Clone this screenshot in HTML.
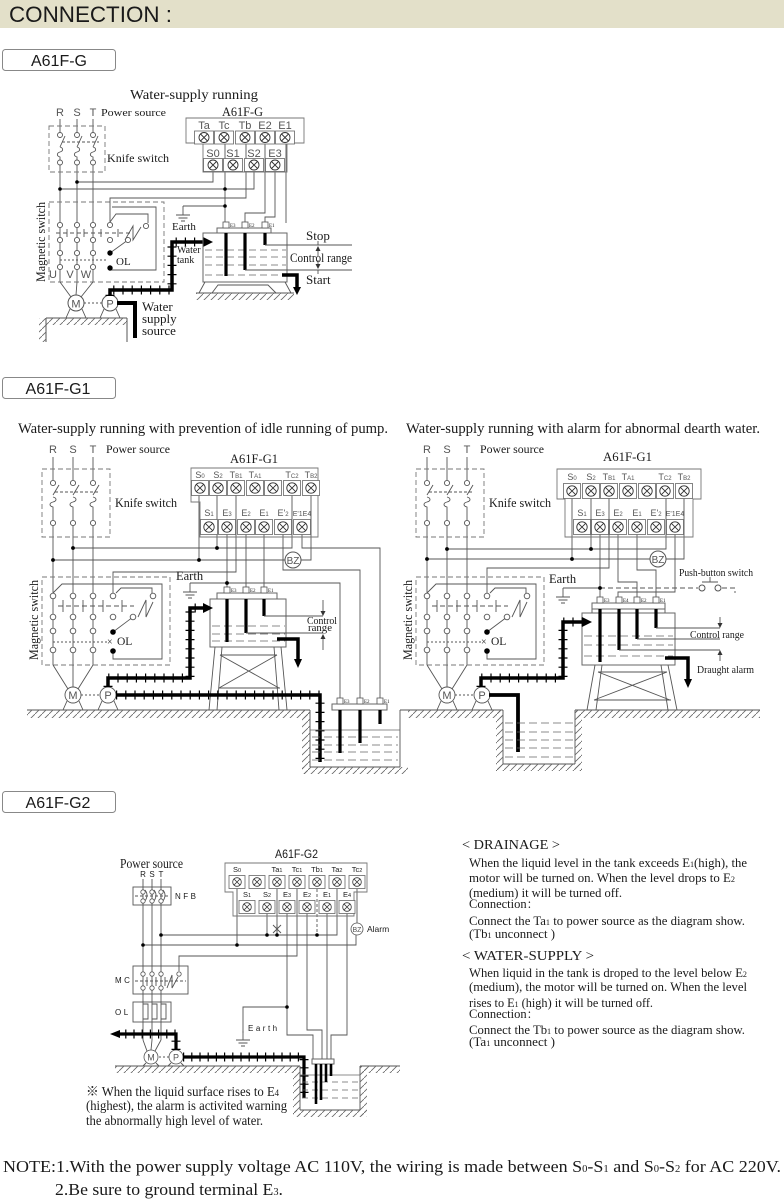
<!DOCTYPE html>
<html><head><meta charset="utf-8">
<style>
html,body{margin:0;padding:0;background:#fff;}
svg{display:block;}
.s{font-family:"Liberation Serif","Noto Serif CJK SC",serif;fill:#1a1a1a;}
.a{font-family:"Liberation Sans",sans-serif;fill:#1a1a1a;}
.g{font-family:"Liberation Sans",sans-serif;fill:#555;}
</style></head><body>
<svg width="784" height="1200" viewBox="0 0 784 1200" xmlns="http://www.w3.org/2000/svg">
<defs>
<pattern id="h" width="7" height="7" patternUnits="userSpaceOnUse"><path d="M-1,8 L8,-1" stroke="#666" stroke-width="0.8"/></pattern>
<g id="tm"><rect x="-8.5" y="-7.5" width="17" height="15" fill="#fff" stroke="#666" stroke-width="0.8"/><circle r="5.2" fill="none" stroke="#333" stroke-width="0.9"/><path d="M-3.6,-3.6 L3.6,3.6 M3.6,-3.6 L-3.6,3.6" stroke="#333" stroke-width="0.9"/></g>
<g id="tm1"><rect x="-9.5" y="-6.5" width="19" height="13" fill="#fff" stroke="#666" stroke-width="0.8"/><circle r="5" fill="none" stroke="#333" stroke-width="0.9"/><path d="M-3.5,-3.5 L3.5,3.5 M3.5,-3.5 L-3.5,3.5" stroke="#333" stroke-width="0.9"/></g>
<g id="tm2"><rect x="-8" y="-6.5" width="16" height="13" fill="#fff" stroke="#666" stroke-width="0.8"/><circle r="4.3" fill="none" stroke="#333" stroke-width="0.8"/><path d="M-3,-3 L3,3 M3,-3 L-3,3" stroke="#333" stroke-width="0.8"/></g>
<g id="gnd"><path d="M0,0 V9 M-7,9 H7 M-4.5,12 H4.5 M-2,15 H2" stroke="#555" stroke-width="0.9" fill="none"/></g>
<g id="eb"><rect x="-3" y="-6" width="6" height="6" fill="#fff" stroke="#555" stroke-width="0.8"/></g>
</defs>

<!-- HEADER -->
<rect x="0" y="0" width="784" height="28" fill="#e3e0c9"/>
<text x="9" y="22" class="a" font-size="22" textLength="163" lengthAdjust="spacingAndGlyphs">CONNECTION :</text>

<rect x="2.5" y="49.5" width="113" height="21" rx="3" fill="#fff" stroke="#888"/>
<text x="59" y="66" class="a" font-size="16" text-anchor="middle">A61F-G</text>
<rect x="2.5" y="377.5" width="113" height="21" rx="3" fill="#fff" stroke="#888"/>
<text x="58" y="394" class="a" font-size="16" text-anchor="middle">A61F-G1</text>
<rect x="2.5" y="791.5" width="113" height="21" rx="3" fill="#fff" stroke="#888"/>
<text x="58" y="808" class="a" font-size="16" text-anchor="middle">A61F-G2</text>

<!-- ================= SECTION 1 ================= -->
<g stroke="#555" stroke-width="0.9" fill="none">
  <line x1="60" y1="119" x2="60" y2="132"/><line x1="77" y1="119" x2="77" y2="132"/><line x1="93" y1="119" x2="93" y2="132"/>
  <line x1="60" y1="147" x2="65" y2="136"/><line x1="77" y1="147" x2="82" y2="136"/><line x1="93" y1="147" x2="98" y2="136"/>
  <path d="M60,147 c3.5,1 3.5,4 0,5 c-3.5,1 -3.5,4 0,5 V160 M77,147 c3.5,1 3.5,4 0,5 c-3.5,1 -3.5,4 0,5 V160 M93,147 c3.5,1 3.5,4 0,5 c-3.5,1 -3.5,4 0,5 V160"/>
  <line x1="60" y1="165" x2="60" y2="282"/><line x1="77" y1="165" x2="77" y2="282"/><line x1="93" y1="165" x2="93" y2="282"/>
  <line x1="62" y1="142" x2="99" y2="142" stroke-dasharray="3 2"/>
  <rect x="49" y="126" width="56" height="46" stroke="#777" stroke-dasharray="5 3"/>
  <rect x="49" y="202" width="115" height="80" stroke="#777" stroke-dasharray="5 3"/>
  <path d="M112,207 H156 V270 H110"/>
  <line x1="56" y1="233" x2="130" y2="233" stroke-dasharray="4 3"/>
  <path d="M67,229 V237 M84,229 V237 M101,229 V237 M118,229 V237"/>
  <line x1="60" y1="260" x2="108" y2="260" stroke-dasharray="2 2"/>
  <path d="M110,222 V198 H246 V143"/>
  <path d="M110,222 L116,214 H148 V223"/>
  <path d="M125,240 L133,226 L133,240 L141,227"/>
  <line x1="110" y1="253" x2="128" y2="240"/>
  <path d="M60,282 L71,297 M77,282 L76,295 M93,282 L81,297"/>
  <path d="M213,171 V182 H77"/>
  <path d="M60,189 H254 V171"/>
  <path d="M225,143 V223"/>
  <path d="M183,206 H225"/>
  <path d="M265,143 V213 H245 V223"/>
  <path d="M275,171 V217 H265 V223"/>
  <path d="M286,143 V223"/>
</g>
<g fill="#fff" stroke="#555" stroke-width="0.9">
  <circle cx="60" cy="135" r="2.5"/><circle cx="77" cy="135" r="2.5"/><circle cx="93" cy="135" r="2.5"/>
  <circle cx="60" cy="162.5" r="2.5"/><circle cx="77" cy="162.5" r="2.5"/><circle cx="93" cy="162.5" r="2.5"/>
  <circle cx="60" cy="225" r="2.6"/><circle cx="77" cy="225" r="2.6"/><circle cx="93" cy="225" r="2.6"/><circle cx="110" cy="225" r="2.6"/>
  <circle cx="60" cy="240" r="2.6"/><circle cx="77" cy="240" r="2.6"/><circle cx="93" cy="240" r="2.6"/><circle cx="110" cy="240" r="2.6"/>
  <circle cx="60" cy="253" r="2.6"/><circle cx="77" cy="253" r="2.6"/><circle cx="93" cy="253" r="2.6"/>
  <circle cx="60" cy="267" r="2.6"/><circle cx="77" cy="267" r="2.6"/><circle cx="93" cy="267" r="2.6"/>
  <circle cx="146" cy="226" r="2.6"/><circle cx="128" cy="240" r="2.6"/>
</g>
<g fill="#000"><circle cx="110" cy="253" r="2.7"/><circle cx="110" cy="268" r="2.7"/>
<circle cx="77" cy="182" r="1.8"/><circle cx="60" cy="189" r="1.8"/><circle cx="225" cy="189" r="1.8"/><circle cx="225" cy="206" r="1.8"/></g>
<use href="#gnd" x="183" y="206"/>
<path d="M186,118 H304 V143 H287 V172 H203 V143 H186 Z" fill="none" stroke="#777" stroke-width="0.9"/>
<use href="#tm1" x="204" y="137.5"/><use href="#tm1" x="224" y="137.5"/><use href="#tm1" x="245" y="137.5"/><use href="#tm1" x="265" y="137.5"/><use href="#tm1" x="285" y="137.5"/>
<use href="#tm1" x="213" y="165"/><use href="#tm1" x="233" y="165"/><use href="#tm1" x="254" y="165"/><use href="#tm1" x="275" y="165"/>
<g class="g" font-size="11" text-anchor="middle">
  <text x="204" y="129">Ta</text><text x="224" y="129">Tc</text><text x="245" y="129">Tb</text><text x="265" y="129">E2</text><text x="285" y="129">E1</text>
  <text x="213" y="157">S0</text><text x="233" y="157">S1</text><text x="254" y="157">S2</text><text x="275" y="157">E3</text>
  <text x="60" y="116">R</text><text x="77" y="116">S</text><text x="93" y="116">T</text>
  <text x="53" y="278">U</text><text x="70" y="278">V</text><text x="86" y="278">W</text>
</g>
<line x1="84" y1="303" x2="102" y2="303" stroke="#555" stroke-dasharray="2 2"/>
<g stroke="#555" stroke-width="0.9" fill="none"><path d="M70,309 L66,318 M82,309 L86,318 M104,309 L100,318 M116,309 L120,318"/></g>
<circle cx="76" cy="303" r="8" fill="#fff" stroke="#555"/><circle cx="110" cy="303" r="8" fill="#fff" stroke="#555"/>
<text x="76" y="307.5" class="g" font-size="11" text-anchor="middle">M</text><text x="110" y="307.5" class="g" font-size="11" text-anchor="middle">P</text>
<line x1="46" y1="318" x2="127" y2="318" stroke="#555"/>
<rect x="46" y="318" width="81" height="7" fill="url(#h)"/>
<line x1="46" y1="318" x2="46" y2="342" stroke="#555"/><rect x="39" y="318" width="7" height="24" fill="url(#h)"/>
<line x1="127" y1="318" x2="127" y2="342" stroke="#555"/>
<path d="M110,296 V290 H172 V242 H204" fill="none" stroke="#000" stroke-width="9" stroke-dasharray="1.2 8"/>
<path d="M110,296 V290 H172 V242 H204" fill="none" stroke="#000" stroke-width="3.5"/>
<polygon points="203,237 213,242 203,247" fill="#000"/>
<path d="M117,303 H135 V338" fill="none" stroke="#000" stroke-width="4"/>
<rect x="203" y="233" width="84" height="49" fill="none" stroke="#666"/>
<rect x="217" y="228" width="54" height="5" fill="#fff" stroke="#666"/>
<use href="#eb" x="226" y="228"/><use href="#eb" x="245" y="228"/><use href="#eb" x="265" y="228"/>
<g class="s" font-size="5"><text x="230" y="227">E3</text><text x="249" y="227">E2</text><text x="269" y="227">E1</text></g>
<g stroke="#666" stroke-width="0.8" stroke-dasharray="7 4"><line x1="205" y1="250" x2="286" y2="250"/><line x1="205" y1="257" x2="286" y2="257"/><line x1="205" y1="265" x2="286" y2="265"/><line x1="205" y1="275" x2="286" y2="275"/></g>
<g stroke="#000" stroke-width="3.2"><line x1="226" y1="233" x2="226" y2="276"/><line x1="245" y1="233" x2="245" y2="270"/><line x1="265" y1="233" x2="265" y2="245"/></g>
<g stroke="#555" stroke-width="0.9" fill="none">
  <path d="M265,245 H352 M245,270 H352"/>
  <path d="M318,241 V245 M318,270 V274 M318,249 V256 M318,260 V266"/>
  <path d="M205,282 L199,293 M285,282 L291,293 M212,293 L218,285 H268 L276,293"/>
  <line x1="196" y1="293" x2="294" y2="293"/>
</g>
<polygon points="315.5,251 320.5,251 318,246" fill="#333"/><polygon points="315.5,264 320.5,264 318,269" fill="#333"/>
<rect x="196" y="293" width="98" height="7" fill="url(#h)"/>
<path d="M282,275 H297 V288" fill="none" stroke="#000" stroke-width="3.5"/><polygon points="293,287 301,287 297,295" fill="#000"/>
<text x="130" y="99" class="s" font-size="14" textLength="128" lengthAdjust="spacingAndGlyphs">Water-supply running</text>
<text x="101" y="116" class="s" font-size="11" textLength="65" lengthAdjust="spacingAndGlyphs">Power source</text>
<text x="222" y="116" class="s" font-size="13" textLength="41" lengthAdjust="spacingAndGlyphs">A61F-G</text>
<text x="107" y="162" class="s" font-size="12" textLength="62" lengthAdjust="spacingAndGlyphs">Knife switch</text>
<text x="172" y="230" class="s" font-size="11">Earth</text>
<text transform="translate(45,242) rotate(-90)" class="s" font-size="13" text-anchor="middle" textLength="80" lengthAdjust="spacingAndGlyphs">Magnetic switch</text>
<text x="116" y="265" class="s" font-size="11">OL</text>
<text x="177" y="253" class="s" font-size="10">Water</text><text x="177" y="263" class="s" font-size="10">tank</text>
<text x="306" y="240" class="s" font-size="13">Stop</text>
<text x="290" y="262" class="s" font-size="12.5" textLength="62" lengthAdjust="spacingAndGlyphs">Control range</text>
<text x="306" y="284" class="s" font-size="13">Start</text>
<text x="142" y="311" class="s" font-size="13">Water</text><text x="142" y="323" class="s" font-size="13">supply</text><text x="142" y="335" class="s" font-size="13">source</text>

<!-- ================= SECTION 2 ================= -->
<text x="18" y="433" class="s" font-size="14.5" textLength="370" lengthAdjust="spacingAndGlyphs">Water-supply running with prevention of idle running of pump.</text>
<text x="406" y="433" class="s" font-size="14.5" textLength="354" lengthAdjust="spacingAndGlyphs">Water-supply running with alarm for abnormal dearth water.</text>

<g id="sw">
<g stroke="#555" stroke-width="0.9" fill="none">
  <line x1="53" y1="457" x2="53" y2="480"/><line x1="73" y1="457" x2="73" y2="480"/><line x1="93" y1="457" x2="93" y2="480"/>
  <line x1="53" y1="495" x2="59" y2="485"/><line x1="73" y1="495" x2="79" y2="485"/><line x1="93" y1="495" x2="99" y2="485"/>
  <path d="M53,497 c4,1 4,4 0,5 c-4,1 -4,4 0,5 V520 M73,497 c4,1 4,4 0,5 c-4,1 -4,4 0,5 V520 M93,497 c4,1 4,4 0,5 c-4,1 -4,4 0,5 V520"/>
  <line x1="55" y1="492" x2="100" y2="492" stroke-dasharray="3 2"/>
  <line x1="53" y1="526" x2="53" y2="665"/><line x1="73" y1="526" x2="73" y2="665"/><line x1="93" y1="526" x2="93" y2="665"/>
  <rect x="42" y="469" width="68" height="68" stroke="#777" stroke-dasharray="5 3"/>
  <rect x="42" y="577" width="128" height="88" stroke="#777" stroke-dasharray="5 3"/>
  <path d="M53,593 L62,584 H162 V659 H113 V651"/>
  <line x1="58" y1="606" x2="134" y2="606" stroke-dasharray="5 3"/>
  <path d="M63,600 V612 M83,600 V612 M103,600 V612 M122,600 V612"/>
  <line x1="53" y1="642" x2="108" y2="642" stroke-dasharray="2 2"/>
  <path d="M116,593 L121,588 H152 V593"/>
  <path d="M138,617 L146,600 L146,617 L153,602"/>
  <line x1="113" y1="632" x2="133" y2="617"/>
  <path d="M53,665 L68,689 M73,665 L73,687 M93,665 L78,689"/>
  <path d="M67,701 L63,710 M79,701 L83,710 M102,701 L98,710 M114,701 L118,710"/>
  <line x1="81" y1="695" x2="100" y2="695" stroke-dasharray="2 2"/>
</g>
<g fill="#fff" stroke="#555" stroke-width="0.9">
  <circle cx="53" cy="483" r="2.6"/><circle cx="73" cy="483" r="2.6"/><circle cx="93" cy="483" r="2.6"/>
  <circle cx="53" cy="523" r="2.6"/><circle cx="73" cy="523" r="2.6"/><circle cx="93" cy="523" r="2.6"/>
  <circle cx="53" cy="596" r="2.8"/><circle cx="73" cy="596" r="2.8"/><circle cx="93" cy="596" r="2.8"/><circle cx="113" cy="596" r="2.8"/>
  <circle cx="53" cy="617" r="2.8"/><circle cx="73" cy="617" r="2.8"/><circle cx="93" cy="617" r="2.8"/><circle cx="113" cy="617" r="2.8"/>
  <circle cx="53" cy="631" r="2.8"/><circle cx="73" cy="631" r="2.8"/><circle cx="93" cy="631" r="2.8"/>
  <circle cx="53" cy="650" r="2.8"/><circle cx="73" cy="650" r="2.8"/><circle cx="93" cy="650" r="2.8"/>
  <circle cx="153" cy="596" r="2.8"/><circle cx="133" cy="617" r="2.8"/>
  <circle cx="73" cy="695" r="8"/><circle cx="108" cy="695" r="8"/>
</g>
<g fill="#000"><circle cx="113" cy="632" r="2.8"/><circle cx="113" cy="651" r="2.8"/></g>
<text x="73" y="699" class="g" font-size="11" text-anchor="middle">M</text><text x="108" y="699" class="g" font-size="11" text-anchor="middle">P</text>
<g class="g" font-size="11" text-anchor="middle"><text x="53" y="453">R</text><text x="73" y="453">S</text><text x="93" y="453">T</text></g>
<text x="106" y="453" class="s" font-size="12" textLength="64" lengthAdjust="spacingAndGlyphs">Power source</text>
<text x="115" y="507" class="s" font-size="13" textLength="62" lengthAdjust="spacingAndGlyphs">Knife switch</text>
<text transform="translate(38,620) rotate(-90)" class="s" font-size="13" text-anchor="middle" textLength="80" lengthAdjust="spacingAndGlyphs">Magnetic switch</text>
<text x="107" y="645" class="s" font-size="10">×</text><text x="117" y="645" class="s" font-size="11.5">OL</text>
</g>
<use href="#sw" x="374" y="0"/>

<g stroke="#555" stroke-width="0.9" fill="none">
  <path d="M73,548 H292 V495"/>
  <path d="M217,495 V548"/>
  <path d="M53,560 H285"/><path d="M199,495 V560"/>
  <path d="M301,560 H311 V495"/>
  <path d="M113,593 V572 H236 V495"/>
  <path d="M190,583 H340 V698"/>
  <path d="M227,534 V591 M246,534 V591 M264,534 V591"/>
  <path d="M283,534 V570 H360 V698"/>
  <path d="M302,534 V548 H380 V698"/>
</g>
<use href="#gnd" x="190" y="583"/>
<g fill="#000"><circle cx="73" cy="548" r="1.9"/><circle cx="217" cy="548" r="1.9"/><circle cx="53" cy="560" r="1.9"/><circle cx="199" cy="560" r="1.9"/><circle cx="227" cy="583" r="1.9"/></g>
<circle cx="293" cy="560" r="8" fill="#fff" stroke="#555"/><text x="293" y="564" class="g" font-size="10" text-anchor="middle">BZ</text>
<path d="M191,468 H318 V537 H200 V502 H191 Z" fill="none" stroke="#777" stroke-width="0.9"/>
<use href="#tm" x="200" y="488"/><use href="#tm" x="218" y="488"/><use href="#tm" x="236" y="488"/><use href="#tm" x="255" y="488"/><use href="#tm" x="273" y="488"/><use href="#tm" x="292" y="488"/><use href="#tm" x="311" y="488"/>
<use href="#tm" x="209" y="527"/><use href="#tm" x="227" y="527"/><use href="#tm" x="246" y="527"/><use href="#tm" x="264" y="527"/><use href="#tm" x="283" y="527"/><use href="#tm" x="302" y="527"/>
<g class="g" font-size="9" text-anchor="middle">
  <text x="200" y="478">S<tspan font-size="6">0</tspan></text><text x="218" y="478">S<tspan font-size="6">2</tspan></text><text x="236" y="478">T<tspan font-size="6">B1</tspan></text><text x="255" y="478">T<tspan font-size="6">A1</tspan></text><text x="292" y="478">T<tspan font-size="6">C2</tspan></text><text x="311" y="478">T<tspan font-size="6">B2</tspan></text>
  <text x="209" y="516">S<tspan font-size="6">1</tspan></text><text x="227" y="516">E<tspan font-size="6">3</tspan></text><text x="246" y="516">E<tspan font-size="6">2</tspan></text><text x="264" y="516">E<tspan font-size="6">1</tspan></text><text x="283" y="516">E'<tspan font-size="6">2</tspan></text><text x="302" y="516" font-size="7">E'1E4</text>
</g>
<text x="230" y="463" class="s" font-size="13" textLength="48" lengthAdjust="spacingAndGlyphs">A61F-G1</text>
<text x="176" y="580" class="s" font-size="12.5">Earth</text>
<rect x="210" y="599" width="76" height="48" fill="none" stroke="#666"/>
<rect x="217" y="593" width="60" height="6" fill="#fff" stroke="#666"/>
<use href="#eb" x="227" y="593"/><use href="#eb" x="246" y="593"/><use href="#eb" x="264" y="593"/>
<g class="s" font-size="5"><text x="231" y="592">E3</text><text x="250" y="592">E2</text><text x="268" y="592">E1</text></g>
<g stroke="#666" stroke-width="0.8" stroke-dasharray="8 4"><line x1="212" y1="626" x2="285" y2="626"/><line x1="212" y1="634" x2="285" y2="634"/><line x1="212" y1="641" x2="285" y2="641"/></g>
<g stroke="#000" stroke-width="3.2"><line x1="227" y1="599" x2="227" y2="642"/><line x1="246" y1="599" x2="246" y2="633"/><line x1="264" y1="599" x2="264" y2="616"/></g>
<g stroke="#555" stroke-width="0.9" fill="none">
  <path d="M264,616 H323 M246,633 H323"/>
  <path d="M323,600 V611 M323,639 V650"/>
  <path d="M215,647 L209,710 M222,647 L217,710 M281,647 L287,710 M274,647 L279,710"/>
  <path d="M220,655 H277 M219,688 H280 M220,655 L279,688 M277,655 L219,688"/>
</g>
<polygon points="320.5,611 325.5,611 323,616" fill="#333"/><polygon points="320.5,639 325.5,639 323,634" fill="#333"/>
<text x="307" y="624" class="s" font-size="11" textLength="30" lengthAdjust="spacingAndGlyphs">Control</text><text x="308" y="631" class="s" font-size="10.5" textLength="24" lengthAdjust="spacingAndGlyphs">range</text>
<path d="M277,639 H298 V660" fill="none" stroke="#000" stroke-width="3.5"/><polygon points="294,659 302,659 298,668" fill="#000"/>
<path d="M108,687 V678 H190 V608 H204" fill="none" stroke="#000" stroke-width="9" stroke-dasharray="1.2 8"/>
<path d="M108,687 V678 H190 V608 H204" fill="none" stroke="#000" stroke-width="3.5"/>
<polygon points="203,603 213,608 203,613" fill="#000"/>
<path d="M116,695 H320 V762" fill="none" stroke="#000" stroke-width="9" stroke-dasharray="1.2 8"/>
<path d="M116,695 H320 V762" fill="none" stroke="#000" stroke-width="3.5"/>
<g stroke="#555" stroke-width="0.9"><line x1="27" y1="710" x2="310" y2="710"/><line x1="310" y1="710" x2="310" y2="767"/><line x1="310" y1="767" x2="400" y2="767"/><line x1="400" y1="710" x2="400" y2="767"/></g>
<rect x="27" y="710" width="283" height="8" fill="url(#h)"/>
<rect x="302" y="710" width="8" height="64" fill="url(#h)"/>
<rect x="302" y="767" width="106" height="7" fill="url(#h)"/>
<rect x="332" y="704" width="55" height="6" fill="#fff" stroke="#666"/>
<use href="#eb" x="340" y="704"/><use href="#eb" x="360" y="704"/><use href="#eb" x="380" y="704"/>
<g class="s" font-size="5"><text x="344" y="703">E3</text><text x="364" y="703">E2</text><text x="384" y="703">E1</text></g>
<g stroke="#666" stroke-width="0.8"><line x1="310" y1="730" x2="400" y2="730"/></g>
<g stroke="#666" stroke-width="0.8" stroke-dasharray="8 4"><line x1="312" y1="737" x2="398" y2="737"/><line x1="312" y1="745" x2="398" y2="745"/><line x1="312" y1="752" x2="398" y2="752"/><line x1="312" y1="760" x2="398" y2="760"/></g>
<g stroke="#000" stroke-width="3.2"><line x1="340" y1="710" x2="340" y2="753"/><line x1="360" y1="710" x2="360" y2="743"/><line x1="380" y1="710" x2="380" y2="724"/></g>

<!-- right G1 -->
<g stroke="#555" stroke-width="0.9" fill="none">
  <path d="M447,549 H666 V497"/><path d="M591,497 V549"/>
  <path d="M427,559 H650"/><path d="M572,497 V559"/>
  <path d="M666,559 H684 V497"/>
  <path d="M487,593 V568 H609 V497"/>
  <path d="M600,534 V597"/>
  <path d="M563,588 H600"/>
  <path d="M600,588 H698 M722,588 H735 V593" stroke-dasharray="5 3"/>
  <path d="M702,582 H718 M710,582 V577"/>
  <path d="M618,534 V582 H637 V597"/>
  <path d="M637,534 V570 H656 V597"/>
  <path d="M675,534 V592 H618 V597"/>
</g>
<circle cx="702" cy="588" r="3" fill="#fff" stroke="#555"/><circle cx="718" cy="588" r="3" fill="#fff" stroke="#555"/>
<use href="#gnd" x="563" y="588"/>
<g fill="#000"><circle cx="447" cy="549" r="1.9"/><circle cx="591" cy="549" r="1.9"/><circle cx="427" cy="559" r="1.9"/><circle cx="572" cy="559" r="1.9"/><circle cx="600" cy="588" r="1.9"/></g>
<circle cx="658" cy="559" r="8" fill="#fff" stroke="#555"/><text x="658" y="563" class="g" font-size="10" text-anchor="middle">BZ</text>
<path d="M557,469 H701 V499 H693 V537 H565 V499 H557 Z" fill="none" stroke="#777" stroke-width="0.9"/>
<use href="#tm" x="572" y="491"/><use href="#tm" x="591" y="491"/><use href="#tm" x="609" y="491"/><use href="#tm" x="628" y="491"/><use href="#tm" x="647" y="491"/><use href="#tm" x="665" y="491"/><use href="#tm" x="684" y="491"/>
<use href="#tm" x="582" y="527"/><use href="#tm" x="600" y="527"/><use href="#tm" x="618" y="527"/><use href="#tm" x="637" y="527"/><use href="#tm" x="656" y="527"/><use href="#tm" x="675" y="527"/>
<g class="g" font-size="9" text-anchor="middle">
  <text x="572" y="480">S<tspan font-size="6">0</tspan></text><text x="591" y="480">S<tspan font-size="6">2</tspan></text><text x="609" y="480">T<tspan font-size="6">B1</tspan></text><text x="628" y="480">T<tspan font-size="6">A1</tspan></text><text x="665" y="480">T<tspan font-size="6">C2</tspan></text><text x="684" y="480">T<tspan font-size="6">B2</tspan></text>
  <text x="582" y="516">S<tspan font-size="6">1</tspan></text><text x="600" y="516">E<tspan font-size="6">3</tspan></text><text x="618" y="516">E<tspan font-size="6">2</tspan></text><text x="637" y="516">E<tspan font-size="6">1</tspan></text><text x="656" y="516">E'<tspan font-size="6">2</tspan></text><text x="675" y="516" font-size="7">E'1E4</text>
</g>
<text x="603" y="461" class="s" font-size="13" textLength="49" lengthAdjust="spacingAndGlyphs">A61F-G1</text>
<text x="549" y="583" class="s" font-size="12.5">Earth</text>
<text x="679" y="576" class="s" font-size="10.5" textLength="74" lengthAdjust="spacingAndGlyphs">Push-button switch</text>
<rect x="582" y="613" width="93" height="52" fill="none" stroke="#666"/>
<rect x="592" y="603" width="73" height="6" fill="#fff" stroke="#666"/>
<line x1="592" y1="609" x2="592" y2="613" stroke="#666"/><line x1="665" y1="609" x2="665" y2="613" stroke="#666"/>
<use href="#eb" x="600" y="603"/><use href="#eb" x="619" y="603"/><use href="#eb" x="637" y="603"/><use href="#eb" x="656" y="603"/>
<g class="s" font-size="5"><text x="604" y="602">E3</text><text x="623" y="602">E4</text><text x="641" y="602">E2</text><text x="660" y="602">E1</text></g>
<g stroke="#666" stroke-width="0.8" stroke-dasharray="8 4"><line x1="584" y1="636" x2="673" y2="636"/><line x1="584" y1="645" x2="673" y2="645"/><line x1="584" y1="656" x2="673" y2="656"/></g>
<g stroke="#000" stroke-width="3.2"><line x1="600" y1="609" x2="600" y2="662"/><line x1="619" y1="609" x2="619" y2="650"/><line x1="637" y1="609" x2="637" y2="639"/><line x1="656" y1="609" x2="656" y2="628"/></g>
<g stroke="#555" stroke-width="0.9" fill="none">
  <path d="M656,628 H720 M637,639 H720 M619,650 H720"/>
  <path d="M720,617 V623 M720,655 V661"/>
  <path d="M595,665 L587,710 M602,665 L596,710 M668,665 L677,710 M661,665 L668,710"/>
  <path d="M598,672 H667 M594,700 H671 M598,672 L670,700 M667,672 L594,700"/>
</g>
<polygon points="717.5,623 722.5,623 720,628" fill="#333"/><polygon points="717.5,655 722.5,655 720,650" fill="#333"/>
<text x="690" y="638" class="s" font-size="11" textLength="54" lengthAdjust="spacingAndGlyphs">Control range</text>
<text x="697" y="673" class="s" font-size="11" textLength="57" lengthAdjust="spacingAndGlyphs">Draught alarm</text>
<path d="M665,658 H688 V680" fill="none" stroke="#000" stroke-width="3.5"/><polygon points="684,679 692,679 688,688" fill="#000"/>
<path d="M481,687 V678 H563 V622 H583" fill="none" stroke="#000" stroke-width="9" stroke-dasharray="1.2 8"/>
<path d="M481,687 V678 H563 V622 H583" fill="none" stroke="#000" stroke-width="3.5"/>
<polygon points="582,617 592,622 582,627" fill="#000"/>
<path d="M489,695 H518 V752" fill="none" stroke="#000" stroke-width="3.8"/>
<g stroke="#555" stroke-width="0.9"><line x1="400" y1="710" x2="503" y2="710"/><line x1="575" y1="710" x2="760" y2="710"/><line x1="503" y1="710" x2="503" y2="764"/><line x1="575" y1="710" x2="575" y2="764"/><line x1="503" y1="764" x2="575" y2="764"/></g>
<rect x="408" y="710" width="95" height="8" fill="url(#h)"/>
<rect x="575" y="710" width="185" height="8" fill="url(#h)"/>
<rect x="496" y="710" width="7" height="61" fill="url(#h)"/><rect x="575" y="710" width="7" height="61" fill="url(#h)"/>
<rect x="496" y="764" width="86" height="7" fill="url(#h)"/>
<g stroke="#666" stroke-width="0.8" stroke-dasharray="8 4"><line x1="505" y1="723" x2="573" y2="723"/><line x1="505" y1="732" x2="573" y2="732"/><line x1="505" y1="740" x2="573" y2="740"/><line x1="505" y1="748" x2="573" y2="748"/><line x1="505" y1="757" x2="573" y2="757"/></g>

<!-- ================= SECTION 3 ================= -->
<g stroke="#555" stroke-width="0.9" fill="none">
  <line x1="143" y1="879" x2="143" y2="1040"/><line x1="152" y1="879" x2="152" y2="1040"/><line x1="161" y1="879" x2="161" y2="1040"/>
  <path d="M143,1040 L147,1051 M152,1040 L151,1050 M161,1040 L155,1051"/>
  <rect x="133" y="887" width="38" height="18"/>
  <path d="M145,890 q4,5 0,11 M154,890 q4,5 0,11 M163,890 q4,5 0,11"/>
  <line x1="135" y1="896" x2="169" y2="896" stroke-dasharray="3 2"/>
  <rect x="133" y="966" width="55" height="28"/>
  <line x1="135" y1="981" x2="186" y2="981" stroke-dasharray="3 2"/>
  <path d="M147,977 V986 M156,977 V986 M165,977 V986"/>
  <path d="M167,988 L172,975 L172,988 L178,977"/>
  <rect x="133" y="1002" width="38" height="20"/>
  <path d="M143,1004 H148 V1019 H143 M152,1004 H157 V1019 H152 M161,1004 H166 V1019 H161"/>
  <path d="M161,935 H337 V889"/>
  <path d="M267,913 V935"/><path d="M277,889 V935"/>
  <path d="M317,889 V935" stroke-dasharray="3 2"/>
  <path d="M143,945 H356 V935"/><path d="M237,889 V945"/>
  <path d="M357,889 V923"/>
  <path d="M179,971 V956 H297 V889"/>
  <path d="M287,913 V1035 H313 V1060"/>
  <path d="M287,1007 H243 V1033"/>
  <path d="M307,913 V1030 H322 V1060"/>
  <path d="M327,913 V1060"/>
  <path d="M347,913 V1035 H331 V1060"/>
  <path d="M273,925 L281,933 M281,925 L273,933 M277,924 V934"/>
  <line x1="159" y1="1057" x2="169" y2="1057" stroke-dasharray="2 2"/>
  <path d="M146,1063 L143,1066 M156,1063 L159,1066 M171,1063 L168,1066 M181,1063 L184,1066"/>
</g>
<use href="#gnd" x="243" y="1031"/>
<g fill="#fff" stroke="#555" stroke-width="0.8">
  <circle cx="143" cy="892" r="2.2"/><circle cx="152" cy="892" r="2.2"/><circle cx="161" cy="892" r="2.2"/>
  <circle cx="143" cy="901" r="2.2"/><circle cx="152" cy="901" r="2.2"/><circle cx="161" cy="901" r="2.2"/>
  <circle cx="143" cy="974" r="2.2"/><circle cx="152" cy="974" r="2.2"/><circle cx="161" cy="974" r="2.2"/><circle cx="179" cy="974" r="2.2"/>
  <circle cx="143" cy="988" r="2.2"/><circle cx="152" cy="988" r="2.2"/><circle cx="161" cy="988" r="2.2"/>
  <circle cx="151" cy="1057" r="7"/><circle cx="176" cy="1057" r="7"/>
  <circle cx="357" cy="929" r="6"/>
</g>
<g fill="#000"><circle cx="161" cy="935" r="1.8"/><circle cx="267" cy="935" r="1.8"/><circle cx="277" cy="935" r="1.8"/><circle cx="317" cy="935" r="1.8"/><circle cx="143" cy="945" r="1.8"/><circle cx="237" cy="945" r="1.8"/><circle cx="287" cy="1007" r="1.8"/></g>
<text x="151" y="1060.5" class="g" font-size="9" text-anchor="middle">M</text><text x="176" y="1060.5" class="g" font-size="9" text-anchor="middle">P</text>
<text x="357" y="932" class="g" font-size="7" text-anchor="middle">BZ</text>
<text x="367" y="932" class="a" font-size="8.5">Alarm</text>
<path d="M225,863 H367 V892 H354 V916 H233 V892 H225 Z" fill="none" stroke="#777" stroke-width="0.9"/>
<use href="#tm2" x="237" y="882"/><use href="#tm2" x="257" y="882"/><use href="#tm2" x="277" y="882"/><use href="#tm2" x="297" y="882"/><use href="#tm2" x="317" y="882"/><use href="#tm2" x="337" y="882"/><use href="#tm2" x="357" y="882"/>
<use href="#tm2" x="247" y="907"/><use href="#tm2" x="267" y="907"/><use href="#tm2" x="287" y="907"/><use href="#tm2" x="307" y="907"/><use href="#tm2" x="327" y="907"/><use href="#tm2" x="347" y="907"/>
<g class="a" font-size="7.5" text-anchor="middle">
  <text x="237" y="872">S<tspan font-size="5.5">0</tspan></text><text x="277" y="872">Ta<tspan font-size="5.5">1</tspan></text><text x="297" y="872">Tc<tspan font-size="5.5">1</tspan></text><text x="317" y="872">Tb<tspan font-size="5.5">1</tspan></text><text x="337" y="872">Ta<tspan font-size="5.5">2</tspan></text><text x="357" y="872">Tc<tspan font-size="5.5">2</tspan></text>
  <text x="247" y="897">S<tspan font-size="5.5">1</tspan></text><text x="267" y="897">S<tspan font-size="5.5">2</tspan></text><text x="287" y="897">E<tspan font-size="5.5">3</tspan></text><text x="307" y="897">E<tspan font-size="5.5">2</tspan></text><text x="327" y="897">E<tspan font-size="5.5">1</tspan></text><text x="347" y="897">E<tspan font-size="5.5">4</tspan></text>
</g>
<text x="275" y="858" class="a" font-size="12" textLength="43" lengthAdjust="spacingAndGlyphs">A61F-G2</text>
<text x="120" y="868" class="s" font-size="14" textLength="63" lengthAdjust="spacingAndGlyphs">Power source</text>
<g class="a" font-size="8" text-anchor="middle"><text x="143" y="877">R</text><text x="152" y="877">S</text><text x="161" y="877">T</text></g>
<text x="175" y="899" class="a" font-size="8" letter-spacing="2.5">NFB</text>
<text x="115" y="983" class="a" font-size="8" letter-spacing="2.5">MC</text>
<text x="115" y="1015" class="a" font-size="8" letter-spacing="2.5">OL</text>
<text x="248" y="1031" class="a" font-size="8" letter-spacing="2.5">Earth</text>
<path d="M176,1050 V1034 H119" fill="none" stroke="#000" stroke-width="9" stroke-dasharray="1.2 7"/>
<path d="M176,1050 V1034 H119" fill="none" stroke="#000" stroke-width="3.2"/>
<polygon points="120,1030 110,1034 120,1038" fill="#000"/>
<path d="M183,1057 H304 V1098" fill="none" stroke="#000" stroke-width="9" stroke-dasharray="1.2 7"/>
<path d="M183,1057 H304 V1098" fill="none" stroke="#000" stroke-width="3.2"/>
<g stroke="#555" stroke-width="0.9"><line x1="115" y1="1066" x2="300" y2="1066"/><line x1="360" y1="1066" x2="400" y2="1066"/><line x1="300" y1="1066" x2="300" y2="1110"/><line x1="360" y1="1066" x2="360" y2="1110"/><line x1="300" y1="1110" x2="360" y2="1110"/></g>
<rect x="115" y="1066" width="185" height="7" fill="url(#h)"/><rect x="360" y="1066" width="40" height="7" fill="url(#h)"/>
<rect x="293" y="1066" width="7" height="50" fill="url(#h)"/><rect x="360" y="1066" width="7" height="50" fill="url(#h)"/>
<rect x="293" y="1110" width="74" height="7" fill="url(#h)"/>
<rect x="312" y="1059" width="22" height="5" fill="#fff" stroke="#666"/>
<g stroke="#666" stroke-width="0.8" stroke-dasharray="6 4"><line x1="302" y1="1082" x2="358" y2="1082"/><line x1="302" y1="1090" x2="358" y2="1090"/><line x1="302" y1="1098" x2="358" y2="1098"/></g>
<line x1="300" y1="1075" x2="360" y2="1075" stroke="#666" stroke-width="0.8"/>
<g stroke="#000" stroke-width="2.6"><line x1="316" y1="1064" x2="316" y2="1104"/><line x1="321" y1="1064" x2="321" y2="1100"/><line x1="326" y1="1064" x2="326" y2="1082"/><line x1="331" y1="1064" x2="331" y2="1076"/></g>
<text x="86" y="1096" class="s" font-size="13.5" textLength="193" lengthAdjust="spacingAndGlyphs">※ When the liquid surface rises to E<tspan font-size="9">4</tspan></text>
<text x="86" y="1110" class="s" font-size="13.5" textLength="201" lengthAdjust="spacingAndGlyphs">(highest), the alarm is activited warning</text>
<text x="86" y="1125" class="s" font-size="13.5" textLength="177" lengthAdjust="spacingAndGlyphs">the abnormally high level of water.</text>
<g class="s" font-size="12.5">
<text x="462" y="849" font-size="14" textLength="98" lengthAdjust="spacingAndGlyphs">&lt; DRAINAGE &gt;</text>
<text x="469" y="867" textLength="278" lengthAdjust="spacingAndGlyphs">When the liquid level in the tank exceeds E<tspan font-size="8">1</tspan>(high), the</text>
<text x="469" y="882" textLength="266" lengthAdjust="spacingAndGlyphs">motor will be turned on. When the level drops to E<tspan font-size="8">2</tspan></text>
<text x="469" y="897" textLength="153" lengthAdjust="spacingAndGlyphs">(medium) it will be turned off.</text>
<text x="469" y="908">Connection<tspan font-size="12">：</tspan></text>
<text x="469" y="925" textLength="276" lengthAdjust="spacingAndGlyphs">Connect the Ta<tspan font-size="8">1</tspan> to power source as the diagram show.</text>
<text x="469" y="938" textLength="86" lengthAdjust="spacingAndGlyphs">(Tb<tspan font-size="8">1</tspan> unconnect )</text>
<text x="462" y="960" font-size="14" textLength="132" lengthAdjust="spacingAndGlyphs">&lt; WATER-SUPPLY &gt;</text>
<text x="469" y="977" textLength="278" lengthAdjust="spacingAndGlyphs">When liquid in the tank is droped to the level below E<tspan font-size="8">2</tspan></text>
<text x="469" y="991" textLength="278" lengthAdjust="spacingAndGlyphs">(medium), the motor will be turned on. When the level</text>
<text x="469" y="1007" textLength="184" lengthAdjust="spacingAndGlyphs">rises to E<tspan font-size="8">1</tspan> (high) it will be turned off.</text>
<text x="469" y="1018">Connection<tspan font-size="12">：</tspan></text>
<text x="469" y="1034" textLength="276" lengthAdjust="spacingAndGlyphs">Connect the Tb<tspan font-size="8">1</tspan> to power source as the diagram show.</text>
<text x="469" y="1046" textLength="86" lengthAdjust="spacingAndGlyphs">(Ta<tspan font-size="8">1</tspan> unconnect )</text>
</g>
<text x="3" y="1172" class="s" font-size="17" textLength="778" lengthAdjust="spacingAndGlyphs">NOTE:1.With the power supply voltage AC 110V, the wiring is made between S<tspan font-size="10">0</tspan>-S<tspan font-size="10">1</tspan> and S<tspan font-size="10">0</tspan>-S<tspan font-size="10">2</tspan> for AC 220V.</text>
<text x="55" y="1195" class="s" font-size="17" textLength="228" lengthAdjust="spacingAndGlyphs">2.Be sure to ground terminal E<tspan font-size="10">3</tspan>.</text>
</svg>
</body></html>
